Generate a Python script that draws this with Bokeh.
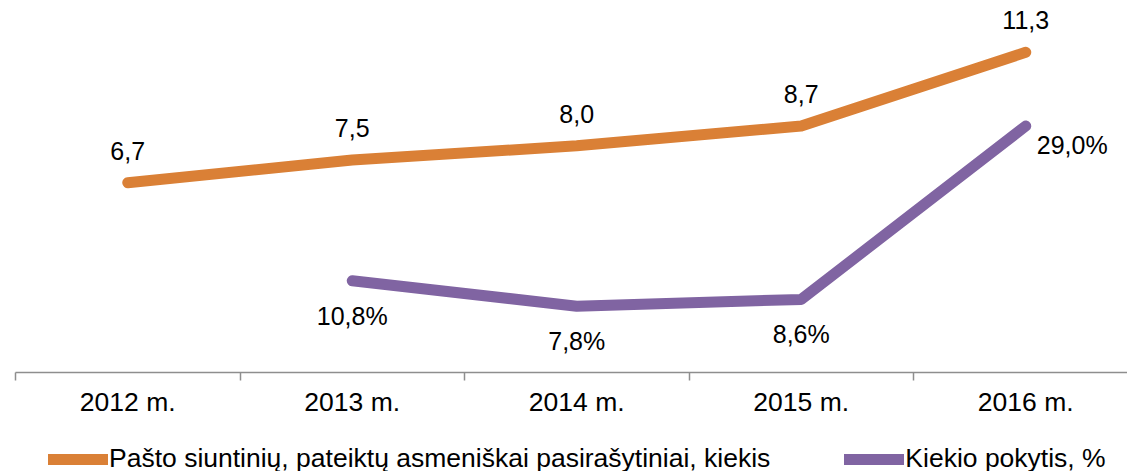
from bokeh.plotting import figure
from bokeh.layouts import column
from bokeh.models import (Range1d, LinearAxis, FixedTicker, ColumnDataSource,
                          LabelSet, Legend, LegendItem)
from bokeh.core.properties import value
from bokeh.embed import file_html
from bokeh.resources import INLINE

# ---- data ----
years = ["2012 m.", "2013 m.", "2014 m.", "2015 m.", "2016 m."]
parcels = [6.7, 7.5, 8.0, 8.7, 11.3]
change_years = ["2013 m.", "2014 m.", "2015 m.", "2016 m."]
change_pct = [10.8, 7.8, 8.6, 29.0]
series_names = ["Pašto siuntinių, pateiktų asmeniškai pasirašytiniai, kiekis",
                "Kiekio pokytis, %"]

ORANGE = "#DA8036"
PURPLE = "#8064A2"
FONT = "Liberation Sans"

xs_parcels = [years.index(y) for y in years]
xs_change = [years.index(y) for y in change_years]

src_a = ColumnDataSource(dict(x=xs_parcels, y=parcels,
                              t=[f"{v:.1f}".replace(".", ",") for v in parcels]))
change_txt = [f"{v:.1f}".replace(".", ",") + "%" for v in change_pct]
src_b = ColumnDataSource(dict(x=xs_change, y=change_pct, t=change_txt))
src_b_low = ColumnDataSource(dict(x=xs_change[:-1], y=change_pct[:-1], t=change_txt[:-1]))
src_b_last = ColumnDataSource(dict(x=xs_change[-1:], y=change_pct[-1:], t=change_txt[-1:]))

line_kw = dict(line_width=11, line_cap="round", line_join="round")

# ---- main chart: frame x 15..1127 (224.5 px per category), y 0..372 ----
p = figure(width=1127, height=432, output_backend="svg", toolbar_location=None,
           x_range=Range1d(-0.5, -0.5 + 1112 / 224.5),
           y_range=Range1d(0, 372 / (340 / 12)),
           y_axis_location=None, x_axis_location=None,
           min_border_left=15, min_border_right=0, min_border_top=0,
           min_border_bottom=60, outline_line_color=None)
p.extra_y_ranges = {"pct": Range1d(0, 372 / (340 / 40))}
p.xgrid.visible = False
p.ygrid.visible = False

xaxis = LinearAxis(ticker=FixedTicker(ticks=xs_parcels,
                                      minor_ticks=[i - 0.5 for i in xs_parcels]))
xaxis.major_label_overrides = {i: years[i] for i in xs_parcels}
xaxis.major_tick_out = 0
xaxis.major_tick_in = 0
xaxis.minor_tick_out = 8
xaxis.minor_tick_in = 0
xaxis.minor_tick_line_color = "#8e8e8e"
xaxis.minor_tick_line_width = 1.5
xaxis.axis_line_color = "#8e8e8e"
xaxis.axis_line_width = 1.5
xaxis.major_label_text_font = FONT
xaxis.major_label_text_font_size = "26.5px"
xaxis.major_label_text_color = "black"
xaxis.major_label_standoff = 6
p.add_layout(xaxis, "below")

r1 = p.line("x", "y", source=src_a, line_color=ORANGE, **line_kw)
r2 = p.line("x", "y", source=src_b, line_color=PURPLE, y_range_name="pct", **line_kw)

lab_kw = dict(text_font=value(FONT), text_font_size="25px", text_color="black",
              text_baseline="alphabetic")
p.add_layout(LabelSet(x="x", y="y", text="t", source=src_a, text_align="center",
                      y_offset=23, **lab_kw))
p.add_layout(LabelSet(x="x", y="y", text="t", source=src_b_low, text_align="center",
                      y_offset=-44, y_range_name="pct", **lab_kw))
p.add_layout(LabelSet(x="x", y="y", text="t", source=src_b_last, text_align="left",
                      x_offset=11, y_offset=-27.5, y_range_name="pct", **lab_kw))

# ---- legend strip (series drawn out of view, only the legend shows) ----
q = figure(width=1127, height=39, output_backend="svg", toolbar_location=None,
           x_range=Range1d(1000, 1001), y_range=Range1d(1000, 1001),
           x_axis_location=None, y_axis_location=None,
           min_border_left=0, min_border_right=0, min_border_top=0,
           min_border_bottom=0, outline_line_color=None)
q.xgrid.visible = False
q.ygrid.visible = False
l1 = q.line("x", "y", source=src_a, line_color=ORANGE, **line_kw)
l2 = q.line("x", "y", source=src_b, line_color=PURPLE, **line_kw)

legend = Legend(items=[LegendItem(label=series_names[0], renderers=[l1]),
                       LegendItem(label=series_names[1], renderers=[l2])],
                orientation="horizontal", location=(33, -3),
                glyph_width=60, glyph_height=20, label_standoff=1, spacing=74,
                padding=0, margin=0, border_line_alpha=0, background_fill_alpha=0,
                label_text_font=FONT, label_text_font_size="26.5px",
                label_text_color="black")
q.add_layout(legend, "center")

layout = column(p, q, spacing=0)
open("out.html", "w").write(file_html(layout, INLINE))
